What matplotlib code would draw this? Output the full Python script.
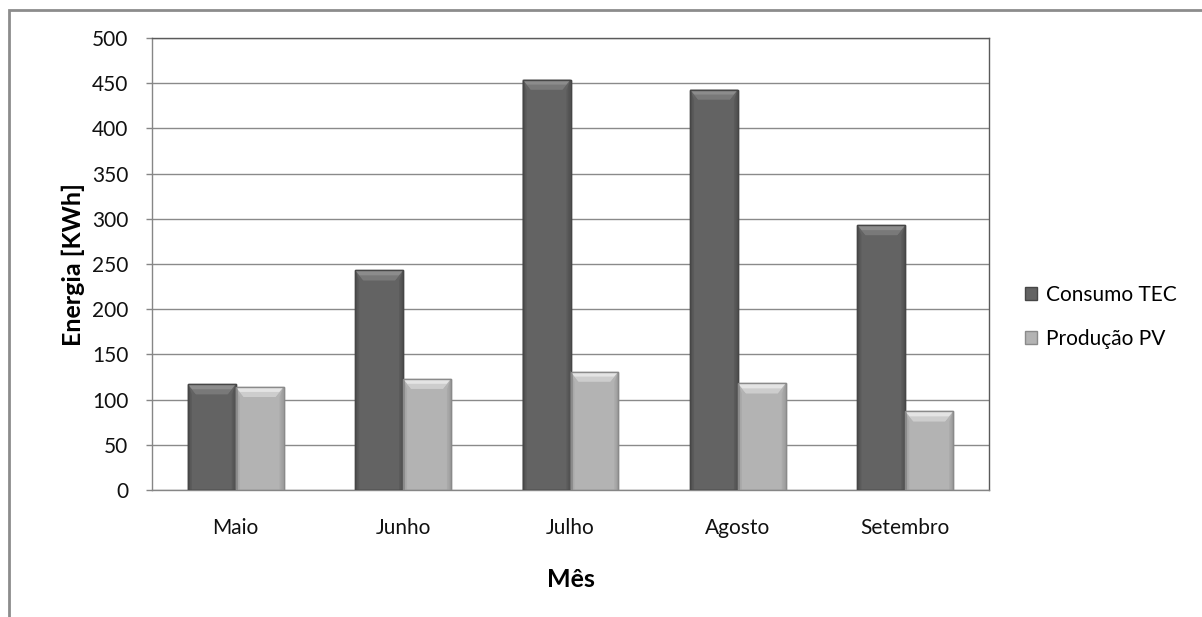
import matplotlib
matplotlib.use("Agg")
import matplotlib.pyplot as plt
import numpy as np
from matplotlib.patches import Polygon, Rectangle, Patch

plt.rcParams['font.family'] = ['Lato', 'DejaVu Sans']

meses = ["Maio", "Junho", "Julho", "Agosto", "Setembro"]
consumo_tec = [117, 243, 454, 443, 293]
producao_pv = [114, 123, 131, 118, 87]
series_labels = ["Consumo TEC", "Produção PV"]
y_ticks = list(range(0, 501, 50))

W, H = 1202, 617
fig = plt.figure(figsize=(W / 100, H / 100), dpi=100)
fig.patch.set_facecolor("white")

# chart border (open to the right and bottom)
fig.add_artist(Rectangle((9 / W, -0.05), 1.1, 1 - 10 / H + 0.05,
                         transform=fig.transFigure, fill=False,
                         edgecolor="#8c8c8c", linewidth=2.0))

ax = fig.add_axes([152 / W, 1 - 490 / H, (989 - 152) / W, (490 - 38) / H])

x = np.arange(len(meses))
bw = 1 / 3.5
styles = [
    dict(face="#636363", edge="#464646", top="#8c8c8c", side="#4c4c4c"),
    dict(face="#b3b3b3", edge="#8a8a8a", top="#e4e4e4", side="#999999"),
]
bars_tec = ax.bar(x - bw / 2, consumo_tec, bw, color=styles[0]["face"],
                  edgecolor=styles[0]["edge"], linewidth=1.0, zorder=3)
bars_pv = ax.bar(x + bw / 2, producao_pv, bw, color=styles[1]["face"],
                 edgecolor=styles[1]["edge"], linewidth=1.0, zorder=3)

ax.set_xlim(-0.5, len(meses) - 0.5)
ax.set_ylim(0, 500)

# bevel decoration sized in pixels
ax_w_px = 989 - 152
ax_h_px = 490 - 38
px_x = len(meses) / ax_w_px
px_y = 500 / ax_h_px
bx, by = 8 * px_x, 10 * px_y
sx = 4 * px_x

for bars, st in ((bars_tec, styles[0]), (bars_pv, styles[1])):
    for r in bars:
        x0 = r.get_x()
        x1 = x0 + r.get_width()
        y1 = r.get_height()
        # side shading, fading inward
        for k, a in ((1.0, 0.35), (0.6, 0.35), (0.3, 0.4)):
            w = sx * k
            ax.add_patch(Polygon([(x0, 0), (x0 + w, 0), (x0 + w, y1 - by * k), (x0, y1)],
                                 closed=True, facecolor=st["side"], edgecolor="none",
                                 alpha=a, zorder=4))
            ax.add_patch(Polygon([(x1, 0), (x1 - w, 0), (x1 - w, y1 - by * k), (x1, y1)],
                                 closed=True, facecolor=st["side"], edgecolor="none",
                                 alpha=a, zorder=4))
        # top chamfer, lighter toward the top edge
        ax.add_patch(Polygon([(x0, y1), (x1, y1), (x1 - bx, y1 - by), (x0 + bx, y1 - by)],
                             closed=True, facecolor=st["top"], edgecolor="none",
                             zorder=5))
        ax.add_patch(Polygon([(x0 + bx * 0.5, y1 - by * 0.5), (x1 - bx * 0.5, y1 - by * 0.5),
                              (x1 - bx, y1 - by), (x0 + bx, y1 - by)],
                             closed=True, facecolor=st["face"], edgecolor="none",
                             alpha=0.45, zorder=5))
        ax.add_patch(Rectangle((x0, 0), x1 - x0, y1, fill=False,
                               edgecolor=st["edge"], linewidth=1.0, zorder=6))

ax.set_yticks(y_ticks)
ax.set_xticks(x)
ax.set_xticklabels(meses)
ax.grid(axis="y", color="#8a8a8a", linewidth=1.0, zorder=0)
ax.set_axisbelow(True)

for s in ("left", "bottom"):
    ax.spines[s].set_color("#868686")
    ax.spines[s].set_linewidth(1.0)
for s in ("top", "right"):
    ax.spines[s].set_color("#5a5a5a")
    ax.spines[s].set_linewidth(1.0)

ax.tick_params(axis="y", direction="out", length=4, width=1, color="#868686",
               pad=13, labelsize=15, labelcolor="#111111")
ax.tick_params(axis="x", length=0, pad=20, labelsize=15, labelcolor="#111111")

ax.set_ylabel("Energia [KWh]", fontsize=18, fontweight="bold", labelpad=5)
ax.set_xlabel("Mês", fontsize=18, fontweight="bold", labelpad=22)

handles = [Patch(facecolor=styles[0]["face"], edgecolor=styles[0]["edge"]),
           Patch(facecolor=styles[1]["face"], edgecolor=styles[1]["edge"])]
fig.legend(handles, series_labels, loc="center left",
           bbox_to_anchor=(1006 / W, 1 - 317 / H), frameon=False,
           fontsize=15, handlelength=0.6, handleheight=0.6,
           handletextpad=0.4, labelspacing=1.15)

fig.savefig("out.png", dpi=100, facecolor="white")
